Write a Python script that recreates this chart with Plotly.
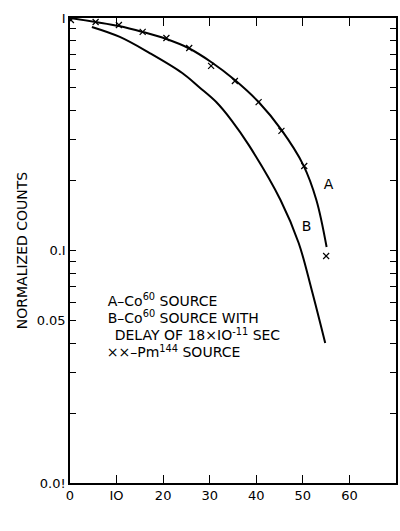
import plotly.graph_objects as go

# Curve A (Co60 source) line
a_x = [0.0, 5.55, 10.5, 15.6, 20.7, 25.4, 30.3, 35.4, 40.5, 45.4, 50.1, 52.9, 55.1]
a_y = [1.0, 0.961, 0.924, 0.871, 0.812, 0.743, 0.647, 0.541, 0.435, 0.330, 0.233, 0.165, 0.1035]

# Curve B (Co60 with delay of 18x10^-11 sec)
b_x = [4.7, 10.7, 17.1, 24.1, 27.7, 31.4, 34.8, 38.4, 45.2, 49.1, 51.9, 54.8]
b_y = [0.915, 0.829, 0.707, 0.580, 0.505, 0.435, 0.3605, 0.284, 0.165, 0.1077, 0.0676, 0.040]

# Pm144 source points (x markers)
pm_x = [0.2, 5.5, 10.5, 15.6, 20.7, 25.6, 30.3, 35.4, 40.5, 45.4, 50.3, 55.0]
pm_y = [0.98, 0.961, 0.933, 0.871, 0.820, 0.743, 0.622, 0.536, 0.435, 0.327, 0.231, 0.0947]

x_ticks = [0, 10, 20, 30, 40, 50, 60]
x_ticktext = ["0", "IO", "20", "30", "40", "50", "60"]
y_ticks = [0.01, 0.05, 0.1, 1]
y_ticktext = ["0.0!", "0.05", "0.I", "I"]
y_minor = [m * d for d in (0.01, 0.1) for m in (2, 3, 4, 6, 7, 8, 9)] + [0.5]

key_text = ["A–Co<sup>60</sup> SOURCE", "B–Co<sup>60</sup> SOURCE WITH",
            "DELAY OF 18×IO<sup>-11</sup> SEC", "××–Pm<sup>144</sup> SOURCE"]
key_x = [8.1, 8.1, 9.6, 7.9]
key_y = [0.0600, 0.0506, 0.0425, 0.0359]

curve_labels = ["A", "B"]
curve_label_x = [55.5, 50.8]
curve_label_y = [0.191, 0.126]

FONT = "DejaVu Sans"
tfont = dict(family=FONT, size=14, color="black")

fig = go.Figure()
fig.add_trace(go.Scatter(x=a_x, y=a_y, mode="lines", line=dict(color="black", width=2, shape="spline", smoothing=1.0),
                         showlegend=False))
fig.add_trace(go.Scatter(x=b_x, y=b_y, mode="lines",
                         line=dict(color="black", width=2, shape="spline", smoothing=1.0), showlegend=False))
fig.add_trace(go.Scatter(x=pm_x, y=pm_y, mode="markers",
                         marker=dict(symbol="x-thin", size=6, line=dict(color="black", width=1.2)),
                         showlegend=False))
fig.add_trace(go.Scatter(x=key_x, y=key_y, mode="text", text=key_text, textposition="middle right",
                         textfont=tfont, showlegend=False, hoverinfo="skip"))
fig.add_trace(go.Scatter(x=curve_label_x, y=curve_label_y, mode="text", text=curve_labels,
                         textposition="middle center", textfont=tfont, showlegend=False, hoverinfo="skip"))
fig.add_trace(go.Scatter(x=[26.7], y=[0.00667], mode="text", text=["DISCRIMINATION VOLTS"],
                         textposition="middle center", textfont=tfont, cliponaxis=False,
                         showlegend=False, hoverinfo="skip"))

all_y_ticks = sorted(y_ticks + y_minor)
all_y_text = [y_ticktext[y_ticks.index(v)] if v in y_ticks else "" for v in all_y_ticks]

fig.update_layout(
    xaxis=dict(range=[0, 70], ticks="inside", ticklen=8, tickwidth=1.3, tickcolor="black",
               showline=True, linecolor="black", linewidth=1.5, mirror="ticks",
               tickmode="array", tickvals=x_ticks, ticktext=x_ticktext, showgrid=False, zeroline=False,
               tickfont=dict(family=FONT, size=13, color="black")),
    yaxis=dict(type="log", range=[-2, 0], ticks="inside", ticklen=6, tickwidth=1.2, tickcolor="black",
               showline=True, linecolor="black", linewidth=1.5, mirror="ticks",
               tickmode="array", tickvals=all_y_ticks, ticktext=all_y_text, showgrid=False, zeroline=False,
               tickfont=dict(family=FONT, size=13, color="black"),
               title=dict(text="NORMALIZED COUNTS", font=tfont, standoff=6)),
)

fig.update_layout(width=400, height=531, margin=dict(l=70, r=2, t=18, b=48),
                  plot_bgcolor="white", paper_bgcolor="white", showlegend=False)

fig.write_html("out.html")
